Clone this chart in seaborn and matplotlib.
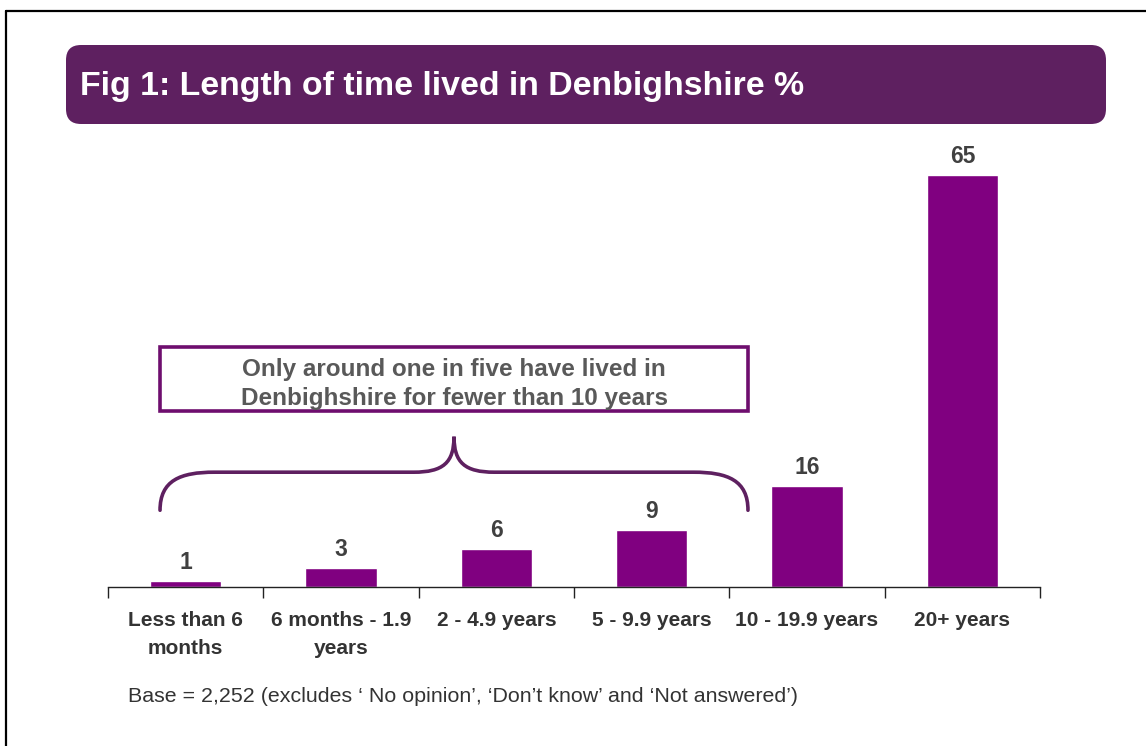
import matplotlib
matplotlib.use("Agg")
import matplotlib.pyplot as plt
import seaborn as sns
from matplotlib.patches import FancyBboxPatch, Rectangle, PathPatch
from matplotlib.path import Path
from matplotlib.lines import Line2D

# --- dados ---
categorias = ["Less than 6\nmonths", "6 months - 1.9\nyears", "2 - 4.9 years",
              "5 - 9.9 years", "10 - 19.9 years", "20+ years"]
valores = [1, 3, 6, 9, 16, 65]
titulo = "Fig 1: Length of time lived in Denbighshire %"
nota = "Base = 2,252 (excludes \u2018 No opinion\u2019, \u2018Don\u2019t know\u2019 and \u2018Not answered\u2019)"
destaque = "Only around one in five have lived in\nDenbighshire for fewer than 10 years"

roxo = "#800080"
roxo_escuro = "#5E2060"
cinza = "#333333"

sns.set_style("white")
plt.rcParams["font.family"] = ["Liberation Sans", "DejaVu Sans"]

fig = plt.figure(figsize=(11.46, 7.46), dpi=100)
ax = fig.add_axes([108 / 1146, (746 - 587) / 746, 932 / 1146, 444 / 746])

sns.barplot(x=categorias, y=valores, color=roxo, width=0.46, saturation=1, ax=ax)
ax.bar_label(ax.containers[0], padding=5, fontsize=16.5, fontweight="bold", color="#404040")

ax.set_xlim(-0.5, 5.5)
ax.set_ylim(0, 70)
ax.set_yticks([])
ax.set_xlabel("")
ax.set_ylabel("")
for s in ["top", "right", "left"]:
    ax.spines[s].set_visible(False)
ax.spines["bottom"].set_color("#222222")
ax.spines["bottom"].set_linewidth(1)

# ticks nas divisões, rótulos no centro
ax.set_xticks([i - 0.5 for i in range(7)], minor=True)
ax.tick_params(axis="x", which="minor", bottom=True, length=8, width=1,
               color="#222222", direction="out")
ax.tick_params(axis="x", which="major", bottom=False, length=0, pad=17.5)
for lbl in ax.get_xticklabels():
    lbl.set_fontsize(15)
    lbl.set_fontweight("bold")
    lbl.set_color(cinza)
    lbl.set_verticalalignment("top")
    lbl.set_linespacing(1.6)

# chave (brace) sobre as quatro primeiras categorias
x0, x1 = -0.165, 3.62
xm = (x0 + x1) / 2
yb, yh, yt = 12.1, 18.1, 23.7
verts = [(x0, yb), (x0, 16.8), (x0 + 0.13, yh), (x0 + 0.35, yh),
         (xm - 0.26, yh),
         (xm - 0.07, yh), (xm, 19.6), (xm, yt),
         (xm, 19.6), (xm + 0.07, yh), (xm + 0.26, yh),
         (x1 - 0.35, yh),
         (x1 - 0.13, yh), (x1, 16.8), (x1, yb)]
codes = [Path.MOVETO, Path.CURVE4, Path.CURVE4, Path.CURVE4,
         Path.LINETO,
         Path.CURVE4, Path.CURVE4, Path.CURVE4,
         Path.CURVE4, Path.CURVE4, Path.CURVE4,
         Path.LINETO,
         Path.CURVE4, Path.CURVE4, Path.CURVE4]
ax.add_patch(PathPatch(Path(verts, codes), fill=False, edgecolor=roxo_escuro,
                       lw=2.6, clip_on=False, capstyle="round"))

# caixa de destaque
ax.add_patch(Rectangle((x0, 27.8), x1 - x0, 10.1, fill=False, edgecolor="#6E0E6E",
                       lw=2.6, clip_on=False))
ax.text(xm, 32.0, destaque, ha="center", va="center", fontsize=17.5,
        fontweight="bold", color="#595959", linespacing=1.3)

# faixa do título
fig.patches.append(FancyBboxPatch((0.66, 6.22), 10.40, 0.79,
                                  boxstyle="round,pad=0,rounding_size=0.15",
                                  transform=fig.dpi_scale_trans, figure=fig,
                                  facecolor=roxo_escuro, edgecolor="none"))
fig.text(80 / 1146, (746 - 86) / 746, titulo, ha="left", va="center",
         fontsize=24.4, fontweight="bold", color="white")

# nota de rodapé
fig.text(128 / 1146, (746 - 696) / 746, nota, ha="left", va="center",
         fontsize=15.4, color=cinza)

# moldura (esquerda e topo)
fig.lines.append(Line2D([6 / 1146, 6 / 1146], [0, (746 - 11) / 746],
                        transform=fig.transFigure, color="black", lw=1.6))
fig.lines.append(Line2D([6 / 1146, 1], [(746 - 11) / 746, (746 - 11) / 746],
                        transform=fig.transFigure, color="black", lw=1.6))

fig.savefig("out.png", dpi=100, facecolor="white")
